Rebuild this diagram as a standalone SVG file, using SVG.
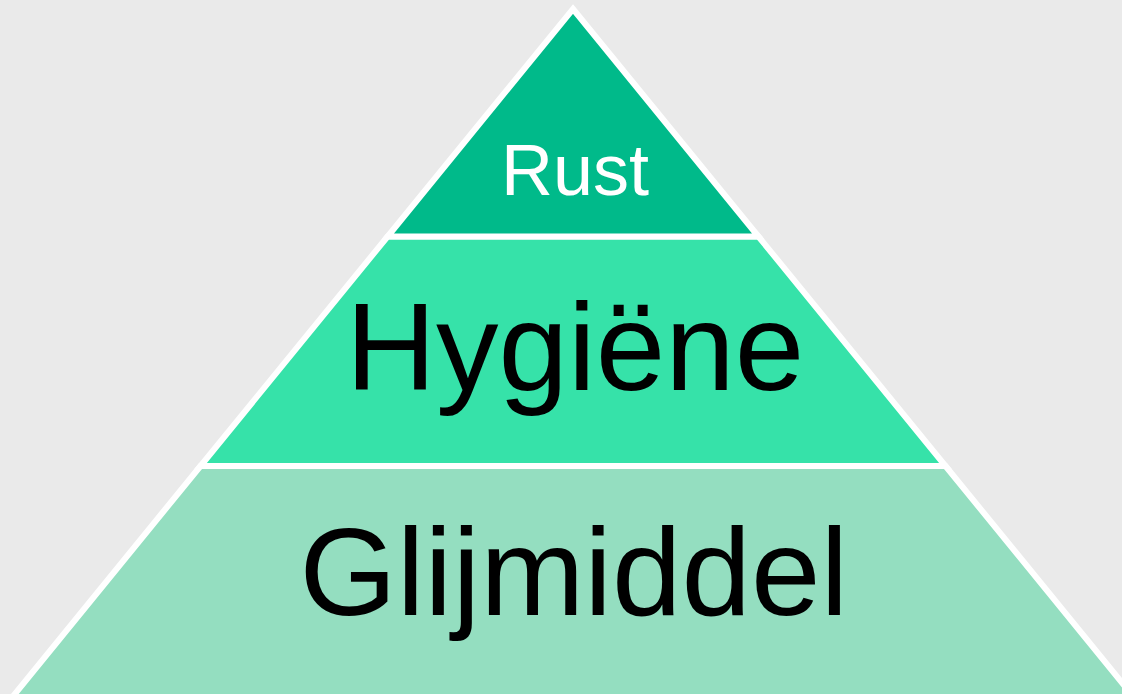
<svg xmlns="http://www.w3.org/2000/svg" width="1122" height="694" viewBox="0 0 1122 694">
<style>
.layer{stroke:#ffffff;stroke-width:6;stroke-linejoin:miter}
.lbl{font-family:"Liberation Sans",Arial,sans-serif;text-anchor:middle}
</style>
<rect x="0" y="0" width="1122" height="694" fill="#eaeaea"/>
<g id="layer-bottom">
<polygon class="layer" fill="#94dec0" points="200.5,466 945.5,466 1136,700 10,700"/>
<text class="lbl" x="574" y="615" font-size="125" fill="#000000">Glijmiddel</text>
</g>
<g id="layer-middle">
<polygon class="layer" fill="#36e2a9" points="387.6,236.5 758.4,236.5 945.5,466 200.5,466"/>
<text class="lbl" x="575" y="390" font-size="125" fill="#000000">Hygiëne</text>
</g>
<g id="layer-top">
<polygon class="layer" fill="#00ba8a" points="573,9 758.4,236.5 387.6,236.5"/>
<text class="lbl" x="575" y="195" font-size="72" fill="#ffffff">Rust</text>
</g>
</svg>
